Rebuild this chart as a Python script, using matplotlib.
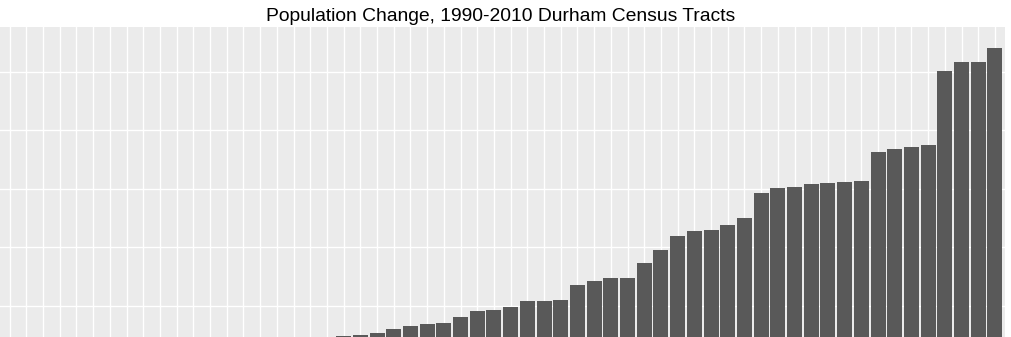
import matplotlib.pyplot as plt
import numpy as np

# census tracts sorted by population change, 1990-2010
tracts = np.arange(60)
change = [-2100, -1650, -1300, -1050, -820, -600, -430, -300, -180, -90,
          -20, 40, 120, 210, 300, 420, 560, 700, 820, 900,
          964, 1009, 1077, 1203, 1316, 1385, 1419, 1624, 1829, 1863,
          1966, 2171, 2171, 2205, 2697, 2834, 2947, 2947, 3460, 3915,
          4393, 4544, 4578, 4749, 4998, 5863, 6034, 6068, 6171, 6205,
          6239, 6274, 7255, 7357, 7436, 7504, 10014, 10342, 10342, 10821]
yticks = [2000, 4000, 6000, 8000, 10000]

W, H = 1011, 337
fig = plt.figure(figsize=(W/100, H/100), dpi=100)
# panel is cropped on the left and bottom in the reference
ax = fig.add_axes([0, 0, 1005/W, (H-27)/H])
ax.set_facecolor('#EBEBEB')
ax.bar(tracts, change, width=0.9, color='#595959', zorder=2)
ax.set_xlim(-0.58, 59.6)
ax.set_ylim(930, 11528)
ax.set_xticks(tracts)
ax.set_yticks(yticks)
ax.grid(True, color='white', linewidth=1.0, zorder=1)
ax.set_axisbelow(True)
ax.tick_params(length=0, labelbottom=False, labelleft=False)
for s in ax.spines.values():
    s.set_visible(False)

fig.text(501/W, 1 - 20.7/H, 'Population Change, 1990-2010 Durham Census Tracts',
         ha='center', va='baseline', fontsize=13.85, family='Liberation Sans', color='black')

fig.savefig('out.png', dpi=100, facecolor='white')
